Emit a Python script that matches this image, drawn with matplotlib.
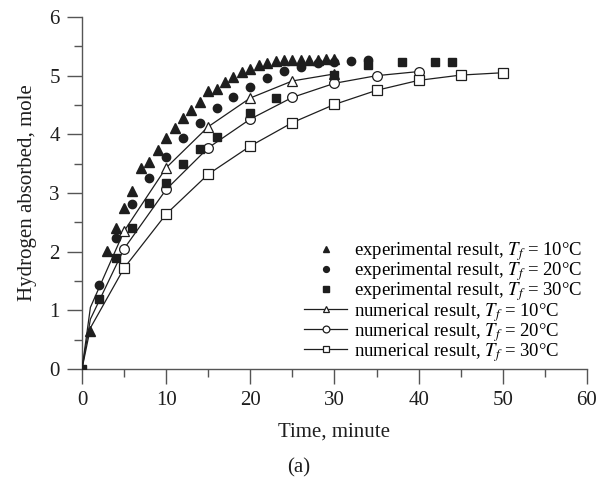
import matplotlib
matplotlib.use("Agg")
import matplotlib.pyplot as plt
from matplotlib.ticker import MultipleLocator

plt.rcParams['font.family'] = ['Liberation Serif', 'DejaVu Serif']
plt.rcParams['mathtext.fontset'] = 'stix'

# experimental results (filled markers)
exp10_t = [1, 3, 4, 5, 6, 7, 8, 9, 10, 11, 12, 13, 14, 15, 16, 17, 18, 19, 20,
           21, 22, 23, 24, 25, 26, 27, 28, 29, 30]
exp10_h = [0.65, 2.01, 2.41, 2.75, 3.03, 3.42, 3.53, 3.74, 3.93, 4.11, 4.28, 4.42,
           4.55, 4.74, 4.78, 4.89, 4.98, 5.06, 5.12, 5.18, 5.21, 5.25, 5.26, 5.26,
           5.26, 5.27, 5.26, 5.29, 5.28]
exp20_t = [2, 4, 6, 8, 10, 12, 14, 16, 18, 20, 22, 24, 26, 28, 30, 32, 34]
exp20_h = [1.43, 2.24, 2.81, 3.25, 3.62, 3.94, 4.20, 4.45, 4.64, 4.81, 4.96, 5.08,
           5.15, 5.22, 5.24, 5.25, 5.27]
exp30_t = [0, 2, 4, 6, 8, 10, 12, 14, 16, 20, 23, 30, 34, 38, 42, 44]
exp30_h = [0, 1.20, 1.90, 2.41, 2.83, 3.17, 3.49, 3.75, 3.96, 4.36, 4.62, 5.01,
           5.18, 5.24, 5.24, 5.24]

# numerical results (lines with open markers)
num10_t = [0, 1, 5, 10, 15, 20, 25, 30]
num10_h = [0, 1.05, 2.35, 3.43, 4.13, 4.62, 4.91, 5.03]
num20_t = [0, 1, 5, 10, 15, 20, 25, 30, 35, 40]
num20_h = [0, 0.85, 2.05, 3.06, 3.77, 4.26, 4.63, 4.87, 5.00, 5.07]
num30_t = [0, 1, 5, 10, 15, 20, 25, 30, 35, 40, 45, 50]
num30_h = [0, 0.70, 1.72, 2.64, 3.32, 3.80, 4.20, 4.51, 4.75, 4.92, 5.01, 5.05]

fs = 15
ink = '#1e1e1e'

fig = plt.figure(figsize=(6.01, 4.83), dpi=100)
ax = fig.add_axes([0.1364, 0.236, 0.8403, 0.7288])

ax.plot(exp10_t, exp10_h, ls='none', marker='^', ms=6.5, color=ink,
        label='experimental result, $T_f$ = 10°C', zorder=4)
ax.plot(exp20_t, exp20_h, ls='none', marker='o', ms=6, color=ink,
        label='experimental result, $T_f$ = 20°C', zorder=4)
ax.plot(exp30_t, exp30_h, ls='none', marker='s', ms=5.8, color=ink,
        label='experimental result, $T_f$ = 30°C', zorder=4)

every = slice(2, None)
ax.plot(num10_t, num10_h, color=ink, lw=0.9, marker='^', ms=7, mfc='white',
        mec=ink, mew=0.9, markevery=every,
        label='numerical result, $T_f$ = 10°C', zorder=3)
ax.plot(num20_t, num20_h, color=ink, lw=0.9, marker='o', ms=7, mfc='white',
        mec=ink, mew=0.9, markevery=every,
        label='numerical result, $T_f$ = 20°C', zorder=3)
ax.plot(num30_t, num30_h, color=ink, lw=0.9, marker='s', ms=6.5, mfc='white',
        mec=ink, mew=0.9, markevery=every,
        label='numerical result, $T_f$ = 30°C', zorder=3)

ax.set_xlim(0, 60)
ax.set_ylim(0, 6)
ax.xaxis.set_major_locator(MultipleLocator(10))
ax.xaxis.set_minor_locator(MultipleLocator(5))
ax.yaxis.set_major_locator(MultipleLocator(1))
ax.yaxis.set_minor_locator(MultipleLocator(0.5))

for s in ['top', 'right']:
    ax.spines[s].set_visible(False)
for s in ['left', 'bottom']:
    ax.spines[s].set_color('#555555')
    ax.spines[s].set_linewidth(1.0)
ax.tick_params(which='major', direction='out', length=11, width=1.0,
               color='#555555', labelsize=fs, pad=5, labelcolor=ink)
ax.tick_params(which='minor', direction='out', length=5.5, width=1.0,
               color='#555555')

ax.set_xlabel('Time, minute', fontsize=fs, color=ink, labelpad=9)
ax.set_ylabel('Hydrogen absorbed, mole', fontsize=fs, color=ink, labelpad=9)
fig.text(0.4975, 0.012, '(a)', fontsize=fs, color=ink, ha='center', va='bottom')

leg = ax.legend(loc='lower right', bbox_to_anchor=(0.99, 0.015), frameon=False,
                fontsize=13.5, handlelength=2.3, handletextpad=0.35,
                labelspacing=-0.15, borderaxespad=0, borderpad=0,
                markerscale=0.7)

fig.savefig('out.png', dpi=100)
